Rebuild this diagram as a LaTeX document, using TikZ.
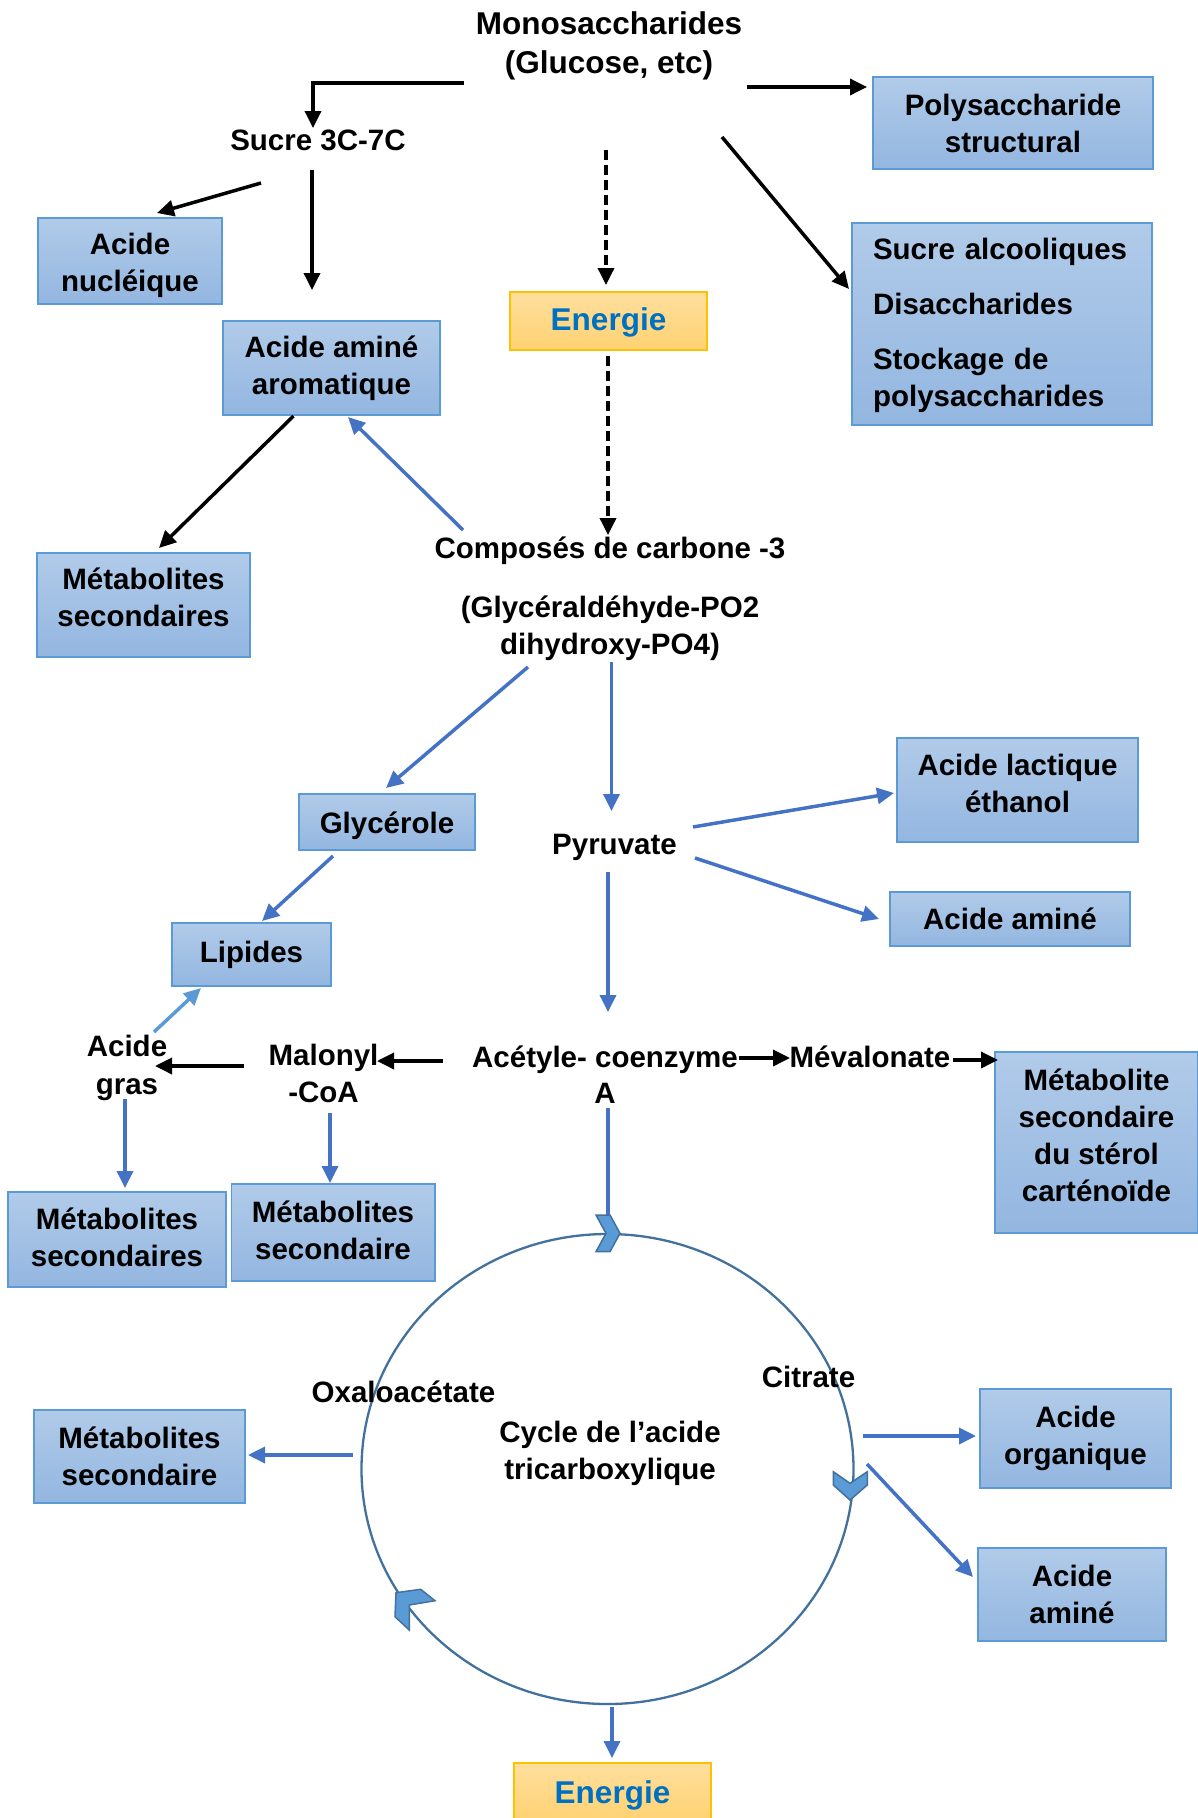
\documentclass[tikz,border=0pt]{standalone}
\usepackage{fontspec}
\setmainfont{Liberation Sans}
\usetikzlibrary{arrows.meta,calc}
\definecolor{boxtop}{HTML}{B1CBE9}
\definecolor{boxbot}{HTML}{93B6E0}
\definecolor{boxline}{HTML}{5B9BD5}
\definecolor{entop}{HTML}{FFDF9E}
\definecolor{enbot}{HTML}{FFD272}
\definecolor{enline}{HTML}{FFC000}
\definecolor{entext}{HTML}{0070C0}
\definecolor{arrblue}{HTML}{4472C4}
\definecolor{arrlight}{HTML}{5B9BD5}
\definecolor{cycleline}{HTML}{41719C}
\definecolor{chevfill}{HTML}{5B9BD5}
\begin{document}
\begin{tikzpicture}[x=1pt,y=-1pt,
  txt/.style={font=\fontsize{29.5}{37}\selectfont\bfseries, inner sep=0pt, align=center},
  box/.style={txt, draw=boxline, line width=1.5pt, top color=boxtop, bottom color=boxbot},
  enbox/.style={draw=enline, line width=1.5pt, top color=entop, bottom color=enbot,
    font=\fontsize{31.5}{39}\selectfont\bfseries, text=entext, inner sep=0pt},
  blk/.style={draw=black, line width=3.5pt, -{Triangle[length=17pt,width=16pt]}},
  blkdash/.style={blk, dash pattern=on 10pt off 5pt},
  blu/.style={draw=arrblue, line width=3.5pt, -{Triangle[length=17pt,width=16pt]}},
  blulight/.style={draw=arrlight, line width=3.5pt, -{Triangle[length=17pt,width=16pt]}},
  chev/.style={fill=chevfill, draw=cycleline, line width=1.5pt, line join=miter}
]
\useasboundingbox (0,0) rectangle (1198,1818);

% ---------- nodes ----------
\node[txt, font=\fontsize{31.5}{39}\selectfont\bfseries] (mono) at (609,46) {Monosaccharides\\(Glucose, etc)};
\node[txt] (sucre3) at (318,140) {Sucre 3C-7C};
\node[box, minimum width=280pt, minimum height=92pt] (poly) at (1013,123) {Polysaccharide\\structural};
\node[box, minimum width=300pt, minimum height=202pt, text width=258pt, inner xsep=21pt, align=left] (salc) at (1002,324)
  {\rule{0pt}{25pt}Sucre alcooliques\\[18pt]Disaccharides\\[18pt]Stockage de\\polysaccharides};
\node[box, minimum width=184pt, minimum height=86pt] (nucl) at (130,261) {\rule{0pt}{30.5pt}Acide\\nucléique};
\node[box, minimum width=217pt, minimum height=94pt] (aaa) at (331.5,368) {Acide aminé\\aromatique};
\node[enbox, minimum width=197pt, minimum height=58pt] (en1) at (608.5,321) {\rule{0pt}{25pt}Energie};
\node[box, minimum width=213pt, minimum height=104pt] (ms1) at (143.5,605) {Métabolites\\secondaires\rule[-15pt]{0pt}{15pt}};
\node[txt] (c3) at (610,599) {Composés de carbone -3\\[22pt](Glycéraldéhyde-PO2\\dihydroxy-PO4)};
\node[box, minimum width=176pt, minimum height=56pt] (glyc) at (387,822) {\rule{0pt}{28.5pt}Glycérole};
\node[txt] (pyr) at (614.5,847.5) {Pyruvate};
\node[box, minimum width=241pt, minimum height=104pt] (lact) at (1017.5,790) {Acide lactique\\éthanol\rule[-14pt]{0pt}{14pt}};
\node[box, minimum width=240pt, minimum height=54pt] (am1) at (1010,919) {Acide aminé};
\node[box, minimum width=159pt, minimum height=63pt] (lip) at (251.5,954.5) {Lipides};
\node[txt, font=\fontsize{29.5}{38}\selectfont\bfseries] (agras) at (127,1067.5) {Acide\\gras};
\node[txt] (malo) at (323.5,1073.5) {Malonyl\\-CoA};
\node[txt, font=\fontsize{29.5}{36}\selectfont\bfseries] (acet) at (605,1075) {Acétyle- coenzyme\\A};
\node[txt] (meva) at (870,1057) {Mévalonate};
\node[box, minimum width=203pt, minimum height=181pt] (mster) at (1096.5,1142.5) {Métabolite\\secondaire\\du stérol\\carténoïde\rule[-14pt]{0pt}{14pt}};
\node[box, minimum width=218pt, minimum height=95pt] (msA) at (117,1239.5) {Métabolites\\secondaires\rule[-4pt]{0pt}{4pt}};
\node[box, minimum width=203.5pt, minimum height=97pt] (msB) at (333,1232.5) {Métabolites\\secondaire\rule[-5pt]{0pt}{5pt}};

\coordinate (tca) at (607.5,1469);
\draw[cycleline, line width=2.3pt] (tca) ellipse [x radius=246, y radius=235];

\node[txt] (oxa) at (403.5,1392) {Oxaloacétate};
\node[txt] (cit) at (808.5,1377) {Citrate};
\node[txt] (cyc) at (610,1453) {Cycle de l’acide\\tricarboxylique};
\node[box, minimum width=211pt, minimum height=93pt] (msC) at (139.5,1456.5) {Métabolites\\secondaire};
\node[box, minimum width=191pt, minimum height=99pt] (orga) at (1075.5,1438.5) {Acide\\organique};
\node[box, minimum width=188pt, minimum height=93pt] (am2) at (1072,1594.5) {Acide\\aminé};
\node[enbox, minimum width=197pt, minimum height=58pt] (en2) at (612.5,1792) {\rule{0pt}{30pt}Energie};

% ---------- connectors ----------
\draw[blk] ($(mono)+(-145,37)$) -| ($(sucre3)+(-5,-12)$);
\draw[blk] ($(mono)+(138,41)$) -- ($(poly)+(-146,-36)$);
\draw[blk] ($(mono)+(113,91)$) -- ($(salc)+(-153,-35)$);
\draw[blkdash] ($(mono)+(-3,104)$) -- ($(en1)+(-2.5,-36)$);
\draw[blk] ($(sucre3)+(-57,43)$) -- ($(nucl)+(27,-48)$);
\draw[blk] ($(sucre3)+(-6,30)$) -- ($(aaa)+(-19.5,-78)$);
\draw[blkdash] ($(en1)+(-0.5,35)$) -- ($(c3)+(-2,-64)$);
\draw[blk] ($(aaa)+(-38,48)$) -- ($(ms1)+(15.5,-57)$);
\draw[blu] ($(c3)+(-147,-69)$) -- ($(aaa)+(16.5,49)$);
\draw[blu] ($(c3)+(-82,68)$) -- ($(glyc)+(-1,-34)$);
\draw[blu] ($(c3)+(1.5,63)$) -- ($(pyr)+(-3,-36.5)$);
\draw[blu] ($(pyr)+(78.5,-20.5)$) -- ($(lact)+(-123.5,3)$);
\draw[blu] ($(pyr)+(80.5,10.5)$) -- ($(am1)+(-131,0)$);
\draw[blu] ($(pyr)+(-6.5,24.5)$) -- ($(acet)+(3,-63)$);
\draw[blu] ($(glyc)+(-54,34)$) -- ($(lip)+(10.5,-33.5)$);
\draw[blulight] ($(agras)+(27,-35.5)$) -- ($(lip)+(-50.5,33.5)$);
\draw[blk] ($(malo)+(-79.5,-7.5)$) -- ($(agras)+(28,-1.5)$);
\draw[blk] ($(acet)+(-162,-14)$) -- ($(malo)+(53.5,-12.5)$);
\draw[blk] ($(acet)+(134,-17)$) -- ($(meva)+(-80,1)$);
\draw[blk] ($(meva)+(83,3)$) -- ($(mster)+(-98.5,-82.5)$);
\draw[blu] ($(agras)+(-2,31.5)$) -- ($(msA)+(8,-51.5)$);
\draw[blu] ($(malo)+(6.5,39.5)$) -- ($(msB)+(-3,-49.5)$);
\draw[draw=arrblue, line width=3.5pt] ($(acet)+(3,33)$) -- ($(tca)+(0.5,-248)$);
\draw[blu] ($(tca)+(-254.5,-14)$) -- ($(msC)+(108.5,-1.5)$);
\draw[blu] ($(tca)+(255.5,-33)$) -- ($(orga)+(-99.5,-2.5)$);
\draw[blu] ($(tca)+(259.5,-5)$) -- ($(am2)+(-99,-17.5)$);
\draw[blu] ($(tca)+(4.5,238)$) -- ($(en2)+(-0.5,-34)$);

% ---------- chevrons on the cycle ----------
\draw[chev] (596,1215) -- (610,1215) -- (620,1233.3) -- (610,1251.7) -- (596,1251.7) -- (606,1233.3) -- cycle;
\draw[chev] (833.3,1471.7) -- (850,1483.3) -- (867.3,1471.7) -- (867.3,1485) -- (850,1500) -- (833.3,1485) -- cycle;
\draw[chev] (396,1592.7) -- (420.7,1589.3) -- (435,1600.7) -- (409.3,1605) -- (409.3,1630) -- (395,1616.7) -- cycle;
\end{tikzpicture}
\end{document}
